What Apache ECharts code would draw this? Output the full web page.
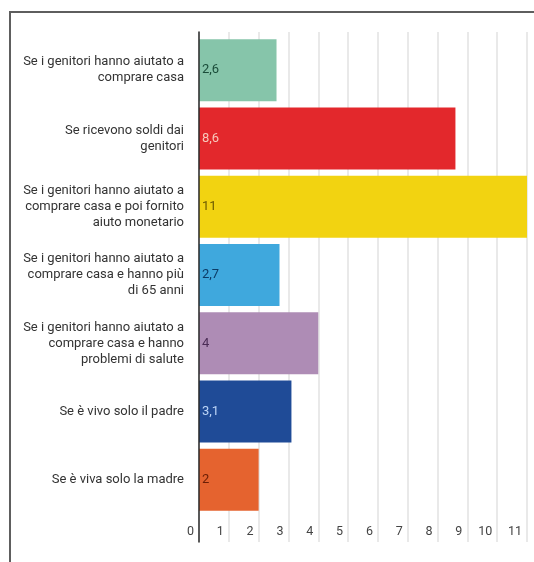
<!DOCTYPE html>
<html>
<head>
<meta charset="utf-8">
<script src="https://cdn.jsdelivr.net/npm/echarts@6/dist/echarts.min.js"></script>
<style>
  html, body { margin: 0; padding: 0; background: #fff; overflow: hidden; }
  #frame { position: absolute; left: 9px; top: 11px; width: 700px; height: 700px; border-top: 2px solid #5e5e5e; border-left: 2px solid #5e5e5e; }
  #chart { position: absolute; left: 0; top: 0; width: 534px; height: 562px; }
</style>
</head>
<body>
<div id="frame"></div>
<div id="chart"></div>
<script>
// Categories, top to bottom
const categories = [
  'Se i genitori hanno aiutato a\ncomprare casa',
  'Se ricevono soldi dai\ngenitori',
  'Se i genitori hanno aiutato a\ncomprare casa e poi fornito\naiuto monetario',
  'Se i genitori hanno aiutato a\ncomprare casa e hanno più\ndi 65 anni',
  'Se i genitori hanno aiutato a\ncomprare casa e hanno\nproblemi di salute',
  'Se è vivo solo il padre',
  'Se è viva solo la madre'
];
const values = [2.6, 8.6, 11, 2.7, 4, 3.1, 2];
const xTicks = [0, 1, 2, 3, 4, 5, 6, 7, 8, 9, 10, 11];

// Bar fill and in-bar label colours, one per category
const barColors = ['#86c5aa', '#e3282c', '#f2d311', '#3fa8dd', '#ae8cb5', '#1f4b97', '#e5632f'];
const labelColors = ['#1b4d3a', '#f7c9bb', '#6b5a00', '#0c3b66', '#4b2c56', '#bcd5f7', '#6b1e05'];

const fmt = v => String(v).replace('.', ',');

const chart = echarts.init(document.getElementById('chart'), null, { renderer: 'canvas' });

const xMin = xTicks[0], xMax = xTicks[xTicks.length - 1];

chart.setOption({
  backgroundColor: 'transparent',
  textStyle: { fontFamily: 'Roboto' },
  grid: [
    { left: 199, right: 7, top: 36, height: 478 },
    { left: 199, right: 7, top: 32, height: 510 }
  ],
  xAxis: [
    {
      gridIndex: 0, type: 'value', min: xMin, max: xMax, interval: 1,
      axisLine: { show: false }, axisTick: { show: false }, splitLine: { show: false },
      axisLabel: {
        margin: 11, align: 'right', padding: [0, 5, 0, 0],
        color: '#444', fontSize: 12.5, fontFamily: 'Roboto',
        formatter: v => fmt(v)
      }
    },
    {
      gridIndex: 1, type: 'value', min: xMin, max: xMax, interval: 1,
      axisLine: { show: false }, axisTick: { show: false }, axisLabel: { show: false },
      splitLine: { show: true, lineStyle: { color: '#e2e2e2', width: 1.5 } }
    }
  ],
  yAxis: [
    {
      gridIndex: 0, type: 'category', data: categories, inverse: true,
      axisLine: { show: false }, axisTick: { show: false },
      axisLabel: {
        margin: 15, color: '#333', fontSize: 13, lineHeight: 16,
        fontFamily: 'Roboto', align: 'right'
      }
    },
    {
      gridIndex: 1, type: 'value', min: 0, max: 1, z: 5,
      axisLine: { show: true, lineStyle: { color: '#2a2a2a', width: 1.5 } },
      axisTick: { show: false }, axisLabel: { show: false }, splitLine: { show: false }
    }
  ],
  series: [
    {
      type: 'bar', xAxisIndex: 0, yAxisIndex: 0,
      barWidth: 62,
      data: values.map((v, i) => ({
        value: v,
        itemStyle: { color: barColors[i] },
        label: { color: labelColors[i] }
      })),
      label: {
        show: true, position: 'insideLeft', distance: 3,
        fontSize: 13, fontFamily: 'Roboto',
        formatter: p => fmt(p.value)
      }
    }
  ]
});
</script>
</body>
</html>
